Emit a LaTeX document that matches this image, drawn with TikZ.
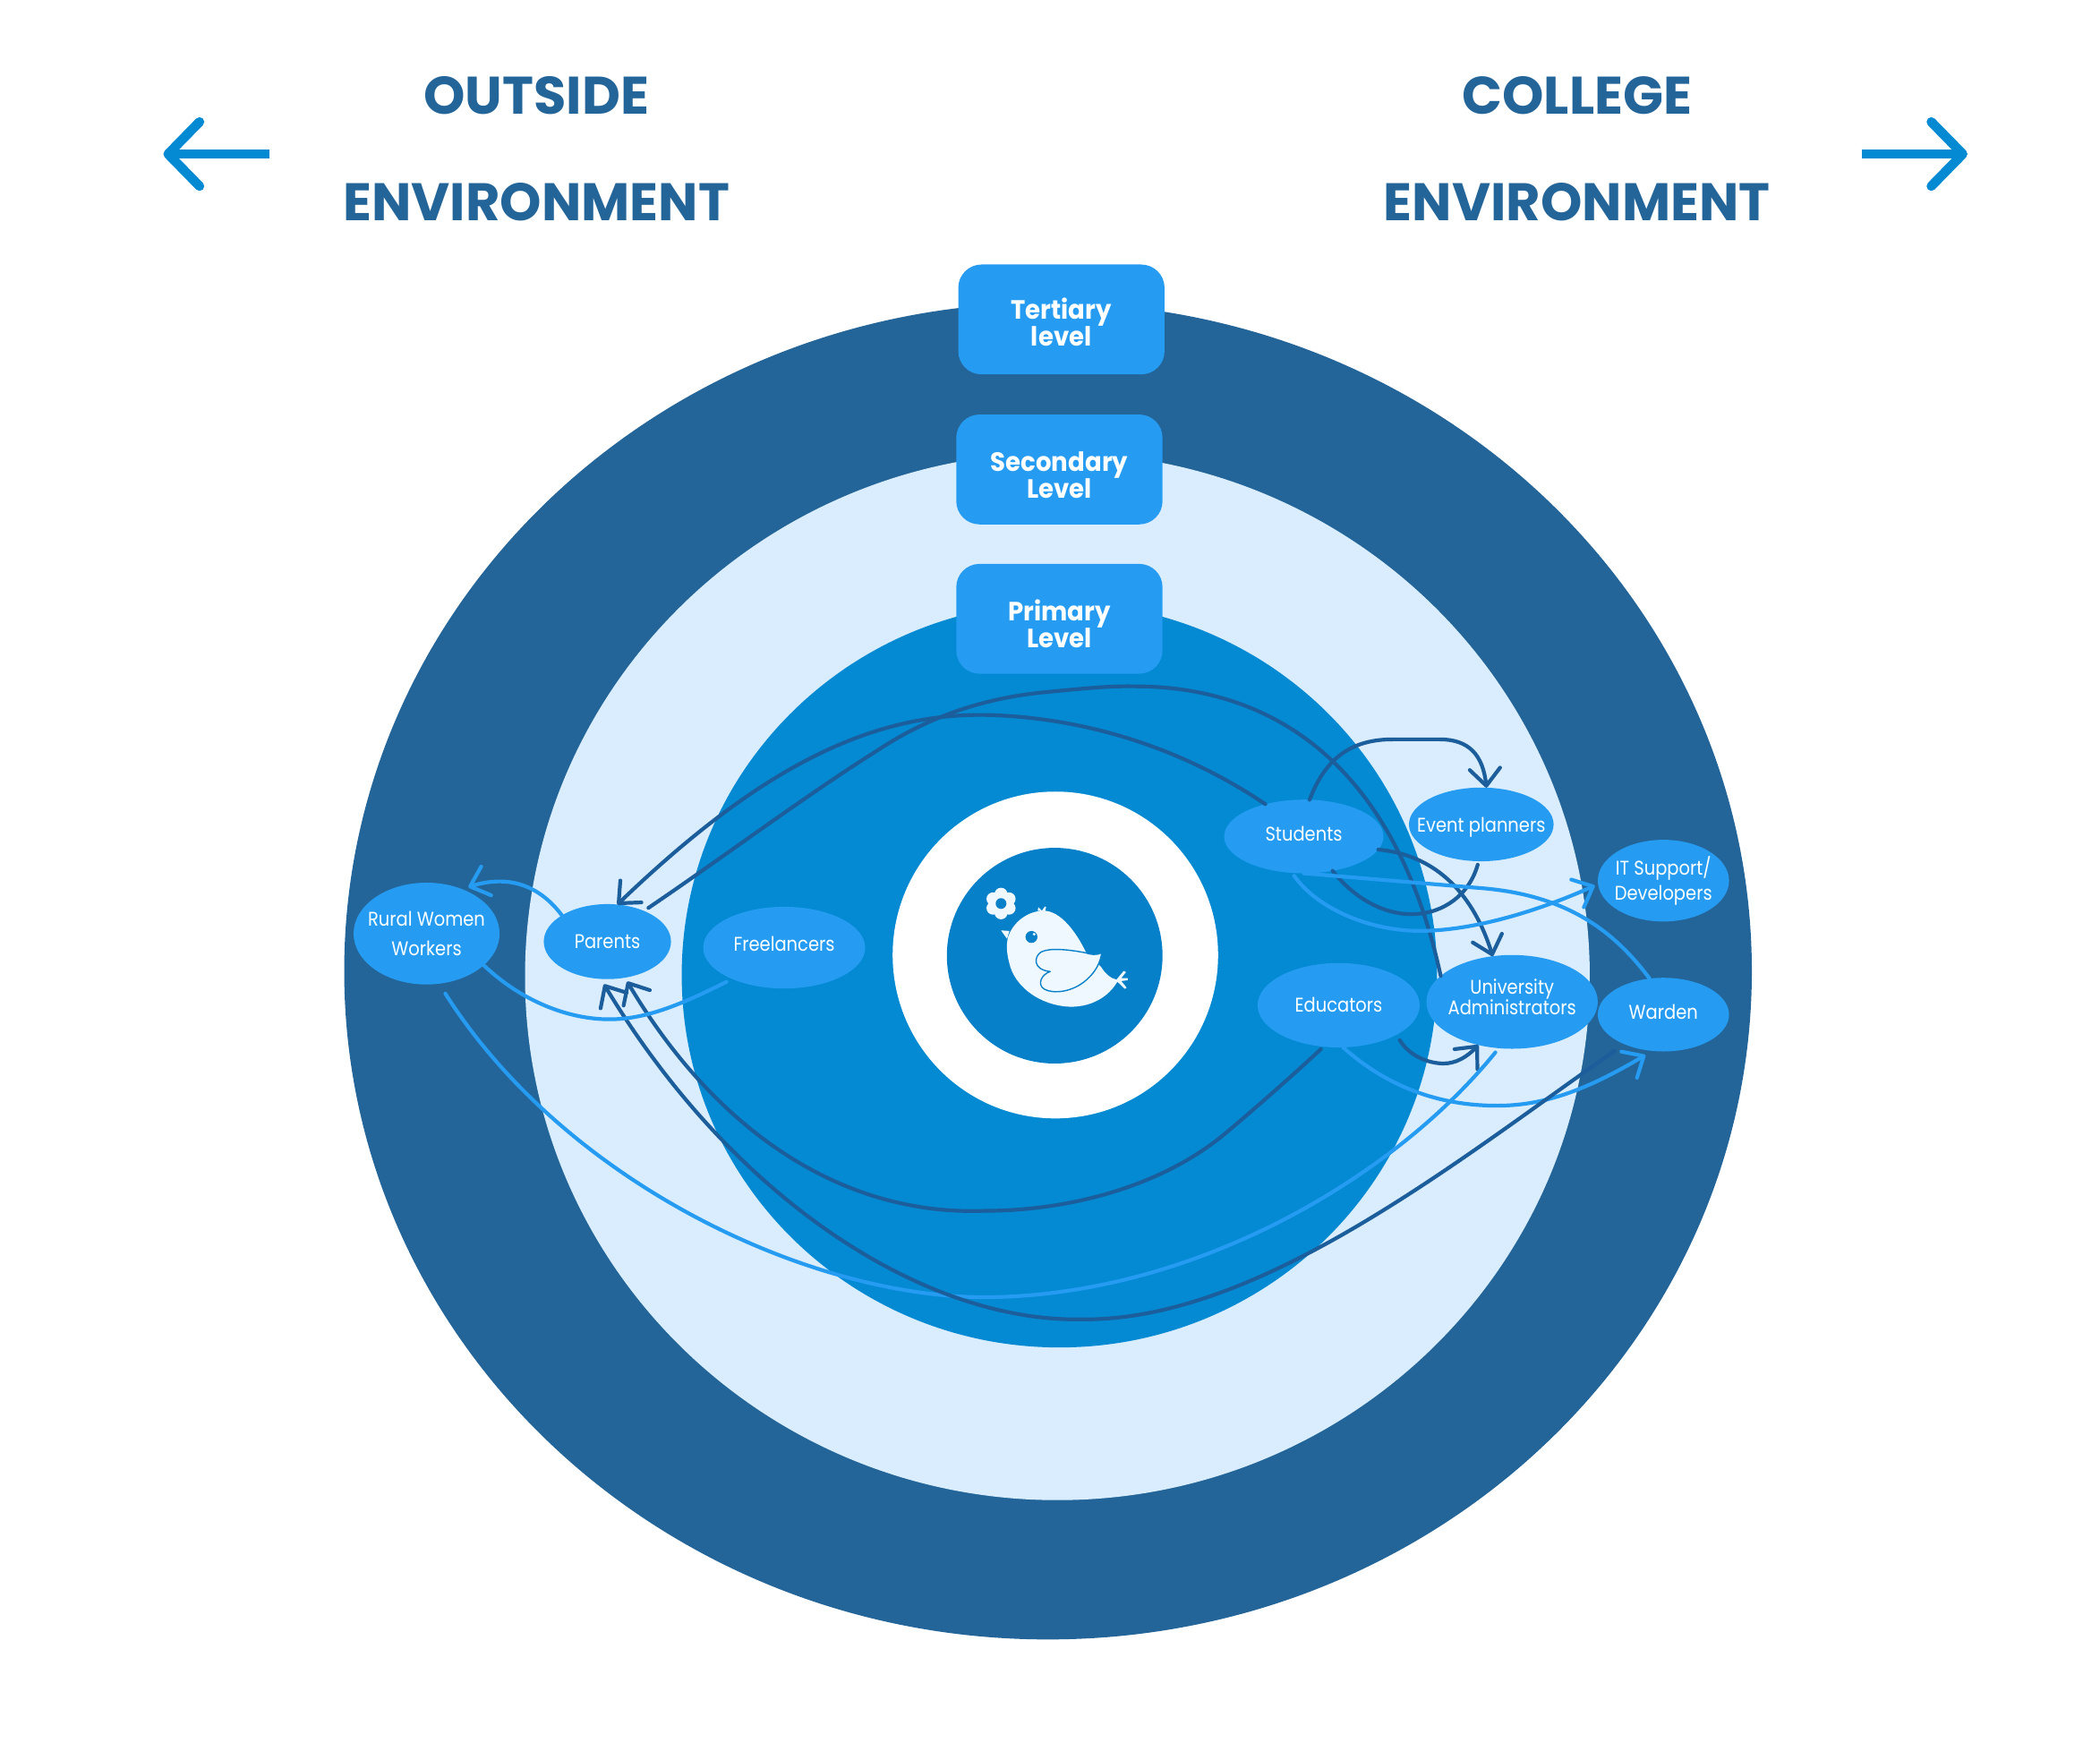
\documentclass[tikz,border=0pt]{standalone}
\usepackage{fontspec}
\setmainfont{Lato}
\newfontfamily\titlefont{Poppins}
\newfontfamily\boxfont[FakeStretch=0.935]{Poppins}
\newfontfamily\actorfont[FakeStretch=0.88]{Poppins}
\usetikzlibrary{shapes.geometric,arrows.meta,bending}
\definecolor{cDark}{HTML}{236599}
\definecolor{cLight}{HTML}{D9EDFE}
\definecolor{cMid}{HTML}{038AD3}
\definecolor{cInner}{HTML}{0680C8}
\definecolor{cNode}{HTML}{259CF2}
\definecolor{cLine}{HTML}{1B5E9B}
\definecolor{cBird}{HTML}{EFF8FE}
\def\un{0.14962mm}
\newcommand{\dnshift}[1]{\rule[-#1]{0pt}{0pt}}
\newcommand{\tallstrut}[1]{\rule{0pt}{#1}}
\tikzset{
  x=0.14962mm,y=-0.14962mm,
  actor/.style n args={2}{ellipse,fill=cNode,text=white,inner sep=-8mm,outer sep=0pt,align=center,
     minimum width=#1*\un,minimum height=#2*\un,font=\actorfont\fontsize{6.3}{5.9}\selectfont},
  level/.style={rectangle,rounded corners=2.6mm,fill=cNode,text=white,inner sep=0pt,outer sep=0pt,align=center,
     minimum width=154*\un,minimum height=82*\un,font=\boxfont\fontsize{8.4}{8.5}\selectfont\bfseries},
  title/.style={text=cDark,font=\titlefont\fontsize{16.8}{20}\selectfont\bfseries,inner sep=0pt},
  headtip/.style={-{Straight Barb[length=1.9mm,width=3.4mm,line width=0.42mm,round]}},
  darkln/.style={draw=cLine,line width=0.42mm,line cap=round,line join=round},
  lightln/.style={draw=cNode,line width=0.42mm,line cap=round,line join=round},
  sidearrow/.style={draw=cMid,line width=1.05mm,line join=round},
}
\begin{document}
\begin{tikzpicture}
\useasboundingbox (0,0) rectangle (1568,1313.4);
\fill[white] (0,0) rectangle (1568,1313.4);
% rings
\fill[cDark] (782.5,725) ellipse [x radius=525.5,y radius=499];
\fill[cLight] (789.5,729) ellipse [x radius=397.5,y radius=391];
\fill[cMid] (791,728) ellipse [x radius=282,y radius=278];
\fill[white] (788,713) ellipse [x radius=121.5,y radius=122];
\fill[cInner] (787.5,713.5) circle [radius=80.5];
% bird
\begin{scope}[shift={(688.4,641.6)},x=0.03333mm,y=-0.03333mm]
  \foreach \a in {0,60,...,300}{\fill[cBird] (265,148)+(\a+30:31) circle [radius=0.73mm];}
  \fill[cBird] (265,148) circle [radius=30];
  \fill[cInner] (265,148) circle [radius=18];
  \draw[cInner,line width=0.1mm] (278,200) -- (278,240) (272,265) -- (258,310);
  \fill[cBird] (265,238) -- (293,240) -- (285,266) -- cycle;
  \fill[cBird] (288,262) .. controls (305,210) and (355,172) .. (410,172)
     .. controls (465,175) and (515,240) .. (550,312) -- (600,360)
     .. controls (615,385) and (635,400) .. (652,403) -- (676,374) -- (684,378) -- (668,398) -- (690,398) -- (690,405) -- (668,408) -- (686,430) -- (680,434) -- (655,410)
     .. controls (625,460) and (570,495) .. (495,494)
     .. controls (400,490) and (310,430) .. (292,345)
     .. controls (283,310) and (283,285) .. (288,262) -- cycle;
  \fill[cBird] (388,172) -- (390,160) -- (402,172) -- (412,158) -- (416,160) -- (412,176) -- cycle;
  \fill[cInner] (367,260) circle [radius=20];
  \fill[cBird] (376,251) circle [radius=5];
  \draw[cInner,fill=cBird,line width=0.14mm,line join=round] (548,313)
     .. controls (490,302) and (430,296) .. (400,310)
     .. controls (375,325) and (370,370) .. (430,376)
     .. controls (400,385) and (385,420) .. (410,435)
     .. controls (440,452) and (505,445) .. (550,405)
     .. controls (585,375) and (597,345) .. (603,313)
     .. controls (585,322) and (565,319) .. (548,313) -- cycle;
\end{scope}
% level boxes
\node[level] (tertiary) at (792.5,238.5) {\tallstrut{2.9mm}Tertiary\\level};
\node[level] (secondary) at (791,350.5) {\tallstrut{3.4mm}Secondary\\Level};
\node[level] (primary) at (791,462) {\tallstrut{3.4mm}Primary\\Level};
% actors
\node[actor={109}{76}] (rural) at (318.5,697) {Rural Women\\[1.2mm]Workers};
\node[actor={95}{56}] (parents) at (453.5,703) {Parents};
\node[actor={121}{61}] (freelancers) at (585.5,707.5) {Freelancers\dnshift{0.9mm}};
\node[actor={119}{55}] (students) at (973.5,624.5) {Students\dnshift{0.6mm}};
\node[actor={108}{55}] (event) at (1106,615.5) {\tallstrut{2.3mm}Event planners};
\node[actor={98}{61}] (itsupport) at (1242,657.5) {IT Support/\\[0.2mm]Developers};
\node[actor={128}{70}] (university) at (1129,748) {University\\[-0.3mm]Administrators\dnshift{1.2mm}};
\node[actor={121}{63}] (educators) at (999.5,750.5) {Educators};
\node[actor={98}{55}] (warden) at (1242,757.5) {Warden\dnshift{0.6mm}};
% connectors
\draw[darkln,headtip] (students.140) .. controls (885,560) and (815,537) .. (743,534) .. controls (650,530) and (565,575) .. (parents.75);
\draw[darkln,shorten <=0.6mm] (parents.40) .. controls (540,640) and (600,595) .. (654,561) .. controls (690,537) and (730,522) .. (778,517) .. controls (800,515) and (825,512) .. (846,512.4) .. controls (945,512) and (1040,565) .. (university.160);
\draw[darkln,headtip] (students.81) .. controls (990,565) and (1010,552) .. (1040,552) -- (1075,552) .. controls (1098,552) and (1108,565) .. (event.82);
\draw[darkln,shorten >=0.4mm] (students.-50) .. controls (1012,672) and (1035,683) .. (1055,682.5) .. controls (1078,682) and (1097,668) .. (event.-94);
\draw[darkln,headtip] (students.-10) .. controls (1070,638) and (1100,665) .. (university.113);
\draw[lightln,headtip,shorten >=0.4mm,shorten <=0.4mm] (students.-108) .. controls (985,680) and (1025,695) .. (1060,695) .. controls (1100,695) and (1150,680) .. (itsupport.-177);
\draw[lightln] (warden.111) .. controls (1205,695) and (1170,668) .. (1105,663) -- (students.-90);
\draw[darkln,headtip,shorten <=0.7mm] (educators.-27) .. controls (1052,788) and (1066,794) .. (1078,794) .. controls (1088,794) and (1097,788) .. (university.-128);
\draw[lightln,headtip,shorten >=0.9mm] (educators.-84) .. controls (1040,815) and (1080,825.5) .. (1118,825.5) .. controls (1160,825.5) and (1195,808) .. (warden.-107);
\draw[lightln,shorten <=0.6mm,shorten >=1.3mm] (university.-106) .. controls (1040,880) and (890,968) .. (735,968.5) .. controls (600,968) and (420,880) .. (rural.-76);
\draw[darkln,headtip,shorten <=1.3mm,shorten >=0.7mm] (warden.-143) .. controls (1090,865) and (940,987) .. (807,985) .. controls (690,987) and (545,895) .. (parents.-100);
\draw[darkln,headtip,shorten <=0.4mm,shorten >=0.5mm] (educators.-110) .. controls (965,803) and (940,825) .. (917.5,844) .. controls (870,885) and (800,904) .. (735,904) .. controls (625,908) and (530,840) .. (parents.-64);
\draw[lightln,shorten <=0.7mm] (freelancers.-149) .. controls (505,752) and (480,761) .. (455,761) .. controls (425,761) and (390,748) .. (rural.-29);
\draw[lightln,headtip,shorten >=0.7mm] (parents.150) .. controls (408,668) and (385,648) .. (rural.51);
% titles
\node[title] (t1) at (400.5,71) {OUTSIDE};
\node[title] (t2) at (400.5,151) {ENVIRONMENT};
\node[title] (t3) at (1177.5,71) {COLLEGE};
\node[title] (t4) at (1177.5,151) {ENVIRONMENT};
% side arrows
\coordinate (la) at (201,115); \coordinate (lb) at (125.5,115);
\coordinate (ra) at (1390,115); \coordinate (rb) at (1465.5,115);
\draw[sidearrow] (la) -- (lb);
\draw[sidearrow,line cap=round] (149,91) -- (lb) -- (149,139);
\draw[sidearrow] (ra) -- (rb);
\draw[sidearrow,line cap=round] (1442,91) -- (rb) -- (1442,139);
\end{tikzpicture}
\end{document}
